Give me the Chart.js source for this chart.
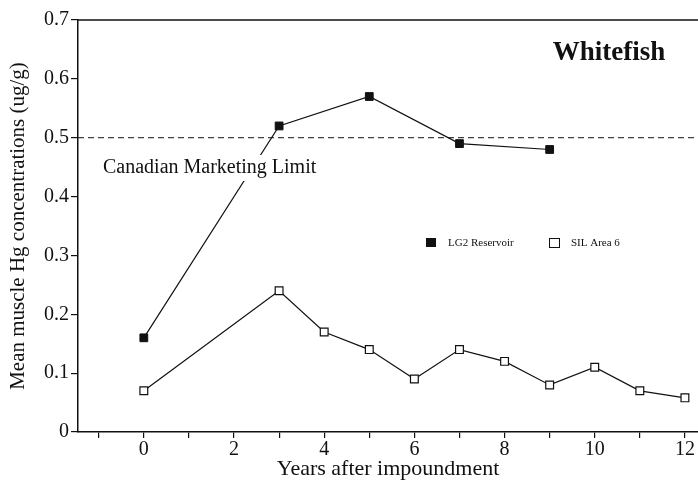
<!DOCTYPE html>
<html>
<head>
<meta charset="utf-8">
<script src="https://cdn.jsdelivr.net/npm/chart.js@4/dist/chart.umd.min.js"></script>
<style>
  html, body { margin: 0; padding: 0; background: #fff; }
  #box { width: 698px; height: 482px; }
</style>
</head>
<body>
<div id="box"><canvas id="grafico"></canvas></div>
<script>
// data
var lg2Years = [0, 3, 5, 7, 9];
var lg2Hg = [0.16, 0.52, 0.57, 0.49, 0.48];
var silYears = [0, 3, 4, 5, 6, 7, 8, 9, 10, 11, 12];
var silHg = [0.07, 0.24, 0.17, 0.14, 0.09, 0.14, 0.12, 0.08, 0.11, 0.07, 0.058];
var seriesNames = ["LG2 Reservoir", "SIL Area 6"];
var xTicks = [-1, 0, 1, 2, 3, 4, 5, 6, 7, 8, 9, 10, 11, 12];
var yTicks = [0, 0.1, 0.2, 0.3, 0.4, 0.5, 0.6, 0.7];
var limitValue = 0.5;
var limitText = "Canadian Marketing Limit";
var titleText = "Whitefish";

var ink = '#111';
var serif = "'Liberation Serif', 'DejaVu Serif', serif";

function pts(xs, ys) {
    return xs.map(function (x, i) { return {x: x, y: ys[i]}; });
}

// dashed limit line, top frame, label, title and legend
var extras = {
    id: 'extras',
    beforeDatasetsDraw: function (chart) {
        var c = chart.ctx, a = chart.chartArea;
        var y = chart.scales.y.getPixelForValue(limitValue);
        c.save();
        c.strokeStyle = ink;
        c.lineWidth = 1;
        c.setLineDash([6, 4]);
        c.beginPath();
        c.moveTo(a.left, y);
        c.lineTo(a.right, y);
        c.stroke();
        c.setLineDash([]);
        c.lineWidth = 1.5;
        c.beginPath();
        c.moveTo(a.left, a.top);
        c.lineTo(a.right, a.top);
        c.stroke();
        c.restore();
    },
    afterDatasetsDraw: function (chart) {
        var c = chart.ctx;
        c.save();
        // limit label (white box breaks the line behind it)
        c.font = '20px ' + serif;
        c.textBaseline = 'middle';
        var w = c.measureText(limitText).width;
        c.fillStyle = '#fff';
        c.fillRect(100, 155, w + 6, 26);
        c.fillStyle = ink;
        c.fillText(limitText, 103, 168);

        // title
        c.font = 'bold 27px ' + serif;
        c.textAlign = 'center';
        c.textBaseline = 'alphabetic';
        c.fillText(titleText, 609, 60);

        // legend
        c.textAlign = 'left';
        c.textBaseline = 'middle';
        c.font = '11px ' + serif;
        c.fillStyle = ink;
        c.fillRect(426, 238, 10, 9);
        c.fillText(seriesNames[0], 448, 243);
        c.fillStyle = '#fff';
        c.strokeStyle = ink;
        c.lineWidth = 1;
        c.fillRect(549, 238, 10, 9);
        c.strokeRect(549.5, 238.5, 10, 9);
        c.fillStyle = ink;
        c.fillText(seriesNames[1], 571, 243);
        c.restore();
    }
};

var ctx = document.getElementById('grafico').getContext('2d');
var chart = new Chart(ctx, {
    type: 'scatter',
    data: {
        datasets: [{
            label: seriesNames[0],
            data: pts(lg2Years, lg2Hg),
            showLine: true,
            borderColor: ink,
            borderWidth: 1.2,
            pointStyle: 'rect',
            pointRadius: 5.5,
            pointBackgroundColor: ink,
            pointBorderColor: ink,
            pointBorderWidth: 1
        }, {
            label: seriesNames[1],
            data: pts(silYears, silHg),
            showLine: true,
            borderColor: ink,
            borderWidth: 1.2,
            pointStyle: 'rect',
            pointRadius: 5.5,
            pointBackgroundColor: '#fff',
            pointBorderColor: ink,
            pointBorderWidth: 1.2
        }]
    },
    options: {
        responsive: true,
        maintainAspectRatio: false,
        animation: false,
        layout: { autoPadding: false, padding: { top: 20, right: 0, left: 0, bottom: 0 } },
        plugins: {
            legend: { display: false },
            tooltip: { enabled: false }
        },
        scales: {
            x: {
                type: 'linear',
                min: -1.46,
                max: 12.29,
                afterBuildTicks: function (s) {
                    s.ticks = xTicks.map(function (v) { return {value: v}; });
                },
                afterFit: function (s) {
                    s.height = 50;
                    s.paddingLeft = 0;
                    s.paddingRight = 0;
                },
                grid: { drawOnChartArea: false, drawTicks: true, tickLength: 6, color: ink, lineWidth: 1.2 },
                border: { color: ink, width: 1.5 },
                ticks: {
                    color: ink,
                    font: { family: serif, size: 20 },
                    padding: 0,
                    maxRotation: 0,
                    autoSkip: false,
                    callback: function (v) { return v % 2 === 0 ? String(v) : ''; }
                },
                title: {
                    display: true,
                    text: 'Years after impoundment',
                    color: ink,
                    font: { family: serif, size: 22 },
                    padding: { top: 0, bottom: 0 }
                }
            },
            y: {
                min: 0,
                max: 0.7,
                afterBuildTicks: function (s) {
                    s.ticks = yTicks.map(function (v) { return {value: v}; });
                },
                afterFit: function (s) {
                    s.width = 78;
                    s.paddingTop = 0;
                    s.paddingBottom = 0;
                },
                grid: { drawOnChartArea: false, drawTicks: true, tickLength: 7, color: ink, lineWidth: 1.2 },
                border: { color: ink, width: 1.5 },
                ticks: {
                    color: ink,
                    font: { family: serif, size: 20 },
                    padding: 2,
                    callback: function (v) { return v === 0 ? '0' : v.toFixed(1); }
                },
                title: {
                    display: true,
                    text: 'Mean muscle Hg concentrations (ug/g)',
                    color: ink,
                    font: { family: serif, size: 21 },
                    padding: { top: 6, bottom: 0 }
                }
            }
        }
    },
    plugins: [extras]
});
</script>
</body>
</html>
